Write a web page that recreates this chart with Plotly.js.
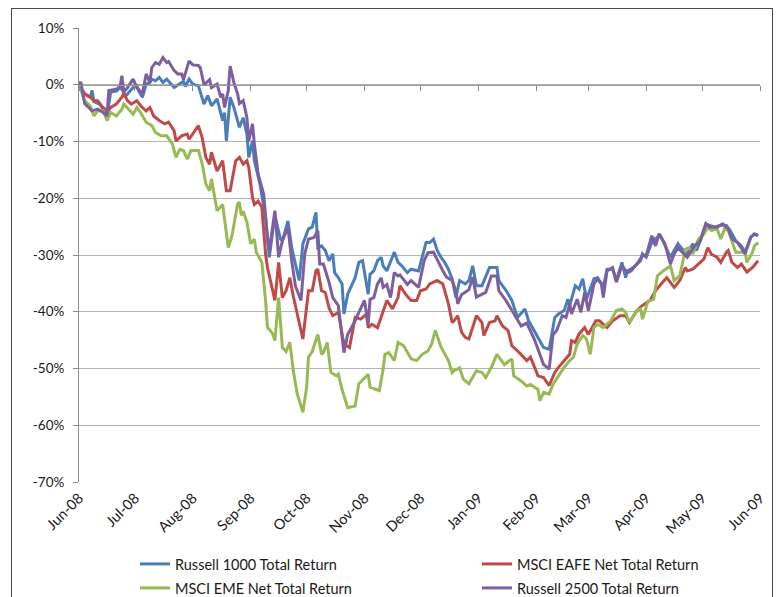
<!DOCTYPE html>
<html>
<head>
<meta charset="utf-8">
<script src="https://cdn.plot.ly/plotly-3.0.1.min.js"></script>
<style>
  html, body { margin: 0; padding: 0; background: #ffffff; }
  #chart { width: 777px; height: 597px; }
  #frame { position: absolute; left: 11px; top: 8px; width: 760px; height: 640px;
           border: 1px solid #4a4a4a; pointer-events: none; }
</style>
</head>
<body>
<div id="chart"></div>
<div id="frame"></div>
<script>
// ---- data: day offsets from 1 Jun 2008, returns in % ----
const startDate = '2008-06-01';

const r1000Days = [0,3,6,7,8,11,13,15,17,20,22,23,25,27,29,31,32,34,36,38,39,41,43,45,47,51,53,55,56,57,59,61,64,67,69,71,74,77,78,79,81,83,86,88,90,91,93,94,97,100,102,105,108,109,112,114,116,118,120,123,125,127,128,130,132,134,136,137,139,141,142,144,148,150,152,154,155,156,158,160,162,163,165,169,171,173,176,178,182,186,188,190,192,194,196,198,200,202,204,207,209,211,213,216,220,224,225,229,232,235,239,241,245,248,249,252,255,257,260,262,263,266,268,270,272,276,278,281,283,286,288,291,293,294,297,301,302,304,308,309,311,313,315,317,319,321,324,326,329,331,333,336,338,341,344,347,349,352,355,357,360,362,364];
const r1000Pct = [0,-1.6,-2.2,-1.0,-3.0,-3.4,-4.3,-5.5,-1.3,-1.1,-0.5,-0.8,-2.0,-1.3,-0.5,-0.2,-1.1,-2.2,0.1,0.4,1.0,0.7,1.3,0.4,1.0,-0.5,-0.1,0.4,0.6,-0.3,1.0,0.1,-0.2,-3.4,-1.9,-3.7,-2.5,-6.3,-4.9,-9.9,-2.2,-4.0,-7.5,-5.8,-8.7,-12.8,-9.9,-13.4,-17.5,-23.4,-30.4,-23.0,-27.2,-27.5,-24.0,-28.7,-31.6,-34.5,-28.0,-25.4,-25.1,-22.5,-28.7,-28.4,-29.2,-31.0,-29.8,-33.1,-34.0,-35.1,-40.4,-36.9,-34.0,-31.3,-31.0,-34.5,-36.9,-33.4,-32.8,-31.0,-30.4,-31.9,-32.8,-29.5,-31.3,-31.9,-33.1,-32.5,-32.8,-27.8,-27.8,-27.2,-29.2,-30.4,-31.3,-32.5,-34.2,-37.5,-34.5,-35.1,-34.5,-31.9,-35.4,-35.4,-32.2,-32.2,-34.5,-36.3,-38.0,-41.0,-39.5,-41.6,-43.9,-45.7,-46.3,-46.6,-41.0,-40.4,-39.8,-37.8,-38.9,-35.4,-36.0,-34.2,-37.8,-34.2,-34.0,-35.7,-32.5,-32.5,-34.5,-31.3,-34.0,-32.8,-32.2,-31.0,-29.8,-30.4,-26.9,-27.5,-26.3,-27.5,-29.0,-30.4,-29.2,-28.0,-29.2,-29.8,-28.0,-29.2,-27.5,-24.5,-24.8,-25.1,-24.7,-24.8,-25.7,-27.5,-28.4,-29.5,-26.9,-26.3,-26.6];

const eafeDays = [0,3,6,8,10,12,14,15,17,20,23,24,26,28,31,33,36,38,40,43,46,48,51,52,55,58,59,62,64,66,68,70,71,74,77,79,81,84,86,88,90,91,93,94,96,98,100,101,105,107,109,111,113,115,117,120,123,125,127,128,130,132,134,136,139,142,145,148,151,154,155,157,160,163,165,168,171,172,175,178,181,183,186,188,192,195,198,200,201,203,205,207,209,213,216,217,220,223,224,227,230,232,236,240,242,246,249,252,255,257,260,263,264,266,268,271,273,277,279,283,286,290,293,295,299,302,306,309,312,315,319,322,325,326,329,332,335,337,339,342,344,347,348,350,353,355,358,361,364];
const eafePct = [0,-1.6,-2.2,-2.8,-2.8,-3.7,-4.3,-4.9,-4.0,-3.4,-2.2,-1.6,-2.8,-3.4,-2.8,-3.7,-4.6,-4.0,-5.5,-6.3,-6.9,-6.6,-8.1,-9.9,-9.0,-8.7,-9.6,-8.1,-7.2,-9.3,-12.8,-14.0,-11.9,-15.2,-13.4,-18.7,-18.7,-13.4,-12.8,-14.0,-13.4,-14.6,-19.9,-21.1,-20.5,-21.6,-29.8,-32.2,-38.0,-31.3,-37.5,-36.3,-34.0,-37.5,-40.4,-44.8,-36.3,-36.3,-32.8,-32.5,-36.3,-36.6,-39.3,-40.7,-40.1,-45.7,-46.3,-41.0,-41.3,-40.4,-42.8,-42.2,-42.8,-39.8,-38.0,-39.5,-37.5,-35.4,-36.9,-38.0,-38.0,-36.3,-36.0,-35.1,-34.5,-35.1,-38.6,-41.9,-41.6,-40.7,-43.6,-44.5,-44.8,-40.7,-41.9,-44.2,-41.9,-41.6,-40.7,-42.5,-43.3,-46.0,-47.2,-48.6,-48.0,-51.3,-51.6,-53.0,-50.7,-49.8,-48.6,-47.5,-45.1,-45.4,-43.9,-42.8,-44.0,-41.6,-41.6,-42.8,-41.6,-40.7,-40.7,-41.9,-39.8,-38.9,-38.0,-36.3,-35.1,-34.0,-35.7,-34.5,-32.2,-32.8,-32.5,-31.6,-30.7,-28.7,-29.9,-30.4,-31.3,-29.5,-29.2,-31.3,-32.2,-31.6,-33.0,-32.2,-31.0];

const emeDays = [0,3,6,8,10,13,15,17,20,23,24,27,29,31,33,36,39,41,44,47,50,52,54,56,58,60,64,66,68,70,71,74,77,80,82,85,86,87,88,90,92,94,95,98,100,101,102,104,105,107,109,111,113,115,117,120,122,123,125,128,130,131,133,135,138,139,141,144,148,150,153,155,156,159,161,163,164,166,169,171,174,178,181,184,187,189,191,194,196,198,200,201,204,206,209,213,216,218,221,224,228,232,233,237,240,242,246,247,249,252,254,257,260,263,265,267,270,272,274,276,278,281,285,288,291,293,295,299,301,302,305,308,310,313,317,319,322,325,327,329,332,335,337,339,342,344,346,348,349,352,355,357,358,361,362,364];
const emePct = [0,-2.8,-3.7,-5.5,-4.6,-4.6,-6.3,-4.9,-5.5,-4.3,-3.4,-4.6,-5.2,-4.0,-4.9,-6.6,-7.2,-8.4,-9.0,-9.0,-10.4,-12.8,-11.4,-11.6,-13.1,-11.6,-11.6,-13.9,-17.5,-18.7,-16.6,-22.2,-21.1,-28.7,-26.6,-21.0,-20.7,-23.0,-22.3,-24.2,-28.0,-27.2,-29.5,-31.3,-38.0,-42.8,-43.1,-44.0,-45.1,-37.5,-46.3,-47.0,-45.4,-50.7,-54.5,-57.7,-53.3,-48.0,-47.0,-44.0,-47.5,-47.2,-45.4,-50.7,-51.3,-51.0,-53.7,-56.9,-56.6,-52.7,-51.6,-51.0,-53.3,-53.6,-53.9,-50.1,-47.5,-47.2,-48.6,-45.4,-46.0,-48.3,-48.6,-47.5,-46.9,-45.7,-43.3,-46.2,-47.5,-48.6,-50.7,-50.4,-49.9,-51.9,-52.7,-50.4,-50.7,-51.6,-49.8,-47.5,-49.3,-48.3,-51.3,-52.2,-53.1,-52.8,-53.7,-55.7,-54.2,-54.5,-52.8,-51.3,-49.8,-48.6,-48.0,-45.7,-44.2,-44.8,-47.5,-42.8,-42.2,-42.8,-41.6,-39.8,-39.5,-40.1,-41.9,-39.8,-39.5,-41.3,-38.1,-37.8,-33.7,-32.8,-31.9,-34.5,-33.7,-29.0,-28.7,-29.8,-27.2,-26.3,-25.1,-25.7,-25.4,-27.2,-25.4,-25.7,-26.6,-29.5,-29.5,-29.5,-31.3,-29.5,-28.4,-27.8];

const r2500Days = [0,1,3,5,7,10,13,15,16,20,22,23,24,26,29,31,34,36,38,39,41,43,45,47,48,51,53,55,56,59,61,64,65,67,70,71,74,76,77,78,80,81,83,85,86,88,90,91,93,94,96,99,101,102,105,107,109,112,114,116,119,121,123,126,128,129,131,134,136,139,142,144,148,150,153,155,156,158,160,162,163,165,167,169,171,172,176,178,182,185,187,190,193,195,197,200,202,203,205,207,209,211,213,218,221,224,225,229,232,237,240,244,247,249,252,254,256,259,261,263,264,267,269,271,273,276,278,280,281,283,286,288,291,294,296,299,302,304,307,309,311,314,317,319,321,324,326,330,333,336,338,342,345,348,350,353,357,360,362,364];
const r2500Pct = [0,0.5,-3.3,-4.0,-4.6,-4.3,-4.9,-5.5,-1.0,-0.8,-0.3,1.6,-1.3,-0.5,1.0,-0.5,-1.6,1.9,0.4,3.0,3.9,3.6,4.8,3.9,4.1,2.5,1.9,1.9,0.9,4.2,3.5,3.4,3.0,0.0,0.9,-0.5,0.1,-2.2,-1.6,-4.0,-1.0,3.3,0.4,-1.6,-3.3,-2.8,-5.8,-9.9,-6.9,-10.5,-15.7,-19.3,-27.0,-29.2,-22.2,-30.4,-27.5,-25.1,-31.0,-35.5,-38.0,-29.8,-27.2,-26.9,-25.7,-31.6,-31.6,-34.8,-37.5,-38.9,-47.2,-44.0,-41.6,-40.1,-38.0,-42.2,-37.8,-37.5,-35.1,-34.0,-35.7,-35.2,-37.5,-33.1,-33.7,-33.5,-35.2,-34.5,-35.7,-31.0,-29.6,-29.5,-31.6,-32.8,-33.9,-34.5,-36.3,-38.6,-37.0,-36.5,-36.1,-33.9,-37.4,-36.6,-33.7,-33.7,-36.3,-38.1,-39.8,-42.5,-42.0,-44.8,-47.5,-49.3,-50.1,-44.1,-43.3,-40.7,-41.0,-38.6,-40.4,-37.8,-40.1,-36.6,-39.8,-35.1,-34.2,-35.1,-37.5,-32.8,-32.2,-34.8,-31.9,-33.1,-32.8,-31.6,-30.1,-30.1,-26.6,-28.4,-26.3,-28.0,-31.6,-29.8,-28.7,-29.8,-30.4,-28.4,-27.5,-24.5,-25.1,-25.1,-24.5,-25.4,-27.2,-27.8,-29.8,-26.9,-26.3,-26.6];

const seriesNames = ['Russell 1000 Total Return','MSCI EAFE Net Total Return','MSCI EME Net Total Return','Russell 2500 Total Return'];
const seriesColors = ['#4A7EBB','#BE4B48','#98B954','#7D5FA0'];

const monthTicks = ['2008-06-01','2008-07-01','2008-08-01','2008-09-01','2008-10-01','2008-11-01','2008-12-01','2009-01-01','2009-02-01','2009-03-01','2009-04-01','2009-05-01','2009-06-01'];
const monthLabels = ['Jun-08','Jul-08','Aug-08','Sep-08','Oct-08','Nov-08','Dec-08','Jan-09','Feb-09','Mar-09','Apr-09','May-09','Jun-09'];
const pctTicks = [10,0,-10,-20,-30,-40,-50,-60,-70];
const pctLabels = ['10%','0%','-10%','-20%','-30%','-40%','-50%','-60%','-70%'];

// ---- build ----
const base = Date.parse(startDate + 'T00:00:00Z');
function toDates(days) {
  return days.map(d => new Date(base + d * 86400000).toISOString().slice(0, 10));
}
const FONT = 'Lato, "Open Sans", sans-serif';
const W = 777, H = 597;

function mk(days, vals, i, legend) {
  return {
    x: toDates(days), y: vals, type: 'scatter', mode: 'lines',
    name: seriesNames[i], legend: legend,
    line: { color: seriesColors[i], width: 3, shape: 'linear' },
    hoverinfo: 'x+y+name'
  };
}

const traces = [
  mk(r1000Days, r1000Pct, 0, 'legend'),
  mk(eafeDays, eafePct, 1, 'legend2'),
  mk(emeDays, emePct, 2, 'legend3'),
  mk(r2500Days, r2500Pct, 3, 'legend4'),
  { x: [monthTicks[0]], y: [0], xaxis: 'x2', type: 'scatter', mode: 'markers',
    marker: { opacity: 0 }, showlegend: false, hoverinfo: 'skip' }
];

const yMin = -70, yMax = 10;
function legendAt(px, py) {
  return {
    orientation: 'h', xref: 'container', yref: 'container',
    x: px / W, y: 1 - py / H, xanchor: 'left', yanchor: 'middle',
    font: { family: FONT, size: 14.5, color: '#1a1a1a' },
    bgcolor: 'rgba(0,0,0,0)', borderwidth: 0, itemwidth: 30
  };
}

const layout = {
  width: W, height: H,
  margin: { l: 79, r: 17, t: 28, b: 115, pad: 0 },
  paper_bgcolor: '#ffffff', plot_bgcolor: '#ffffff',
  font: { family: FONT, size: 13, color: '#1a1a1a' },
  showlegend: true,
  xaxis: {
    type: 'date', range: [monthTicks[0], monthTicks[monthTicks.length - 1]],
    tickmode: 'array', tickvals: monthTicks, ticktext: monthLabels,
    tickangle: -45, showgrid: false, zeroline: false, showline: false,
    ticks: '', ticklabelstandoff: 4,
    tickfont: { family: FONT, size: 14.5, color: '#1a1a1a' },
    automargin: false, fixedrange: true
  },
  xaxis2: {
    type: 'date', overlaying: 'x', anchor: 'free',
    position: (0 - yMin) / (yMax - yMin), side: 'bottom',
    range: [monthTicks[0], monthTicks[monthTicks.length - 1]],
    tickmode: 'array', tickvals: monthTicks, showticklabels: false,
    ticks: 'outside', ticklen: 5, tickcolor: '#8c8c8c', tickwidth: 1,
    showline: true, linecolor: '#9a9a9a', linewidth: 1,
    showgrid: false, zeroline: false, fixedrange: true
  },
  yaxis: {
    range: [yMin, yMax], tickmode: 'array', tickvals: pctTicks, ticktext: pctLabels,
    showgrid: true, gridcolor: '#b4b4b4', gridwidth: 1,
    zeroline: false, showline: true, linecolor: '#8c8c8c', linewidth: 1,
    ticks: 'outside', ticklen: 5, tickcolor: '#8c8c8c',
    ticklabelstandoff: 6,
    tickfont: { family: FONT, size: 13.5, color: '#1a1a1a' },
    automargin: false, fixedrange: true
  },
  legend: legendAt(135, 564),
  legend2: legendAt(477, 564),
  legend3: legendAt(135, 588),
  legend4: legendAt(477, 588)
};

Plotly.newPlot('chart', traces, layout, { displayModeBar: false, staticPlot: true });
</script>
</body>
</html>
